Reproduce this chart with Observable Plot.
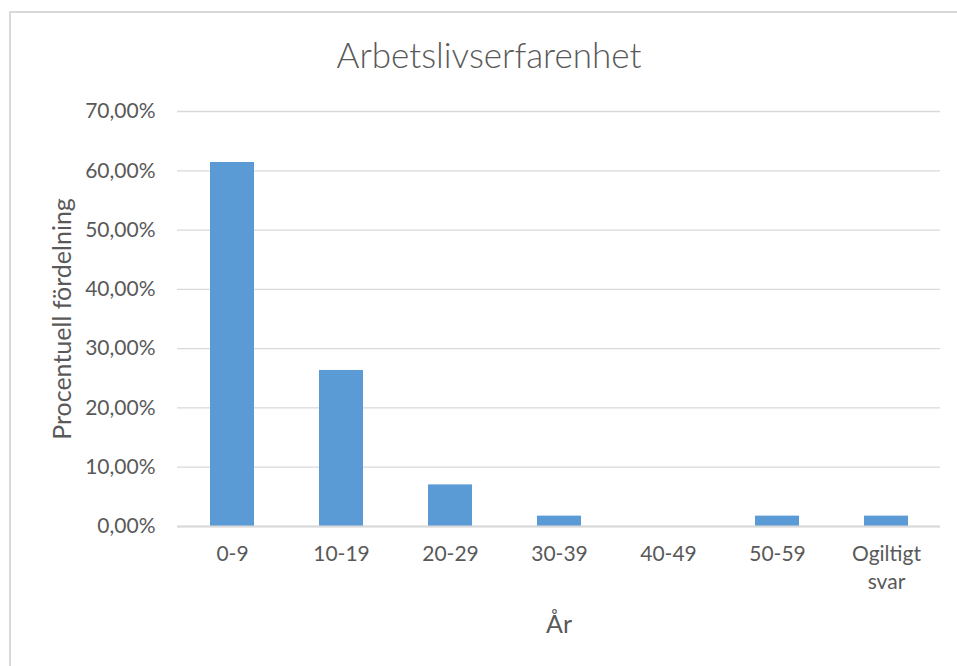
<!DOCTYPE html>
<html>
<head>
<meta charset="utf-8">
<script src="https://cdn.jsdelivr.net/npm/d3@7"></script>
<script src="https://cdn.jsdelivr.net/npm/@observablehq/plot@0.6"></script>
<style>
  html, body { margin: 0; padding: 0; background: #fff; }
  #wrap { position: relative; width: 957px; height: 666px; overflow: hidden; font-family: Lato, "Noto Sans", sans-serif; }
  #border { position: absolute; left: 9px; top: 11px; width: 980px; height: 700px; border: 2px solid #d9d9d9; box-sizing: border-box; }
  #title { position: absolute; left: 0; top: 33px; width: 978px; text-align: center; font-size: 35px; color: #595959; font-weight: 300; }
  #chart { position: absolute; left: 0; top: 0; }
</style>
</head>
<body>
<div id="wrap">
  <div id="border"></div>
  <div id="title">Arbetslivserfarenhet</div>
  <div id="chart"></div>
</div>
<script>
const categories = ["0-9", "10-19", "20-29", "30-39", "40-49", "50-59", "Ogiltigt svar"];
const values = [0.6140, 0.2632, 0.0702, 0.0175, 0, 0.0175, 0.0175];
const yTicks = [0, 0.1, 0.2, 0.3, 0.4, 0.5, 0.6, 0.7];
const yLabel = "Procentuell fördelning";
const xLabel = "År";

const data = categories.map((c, i) => ({cat: c, val: values[i]}));
const fmt = d => (d * 100).toFixed(2).replace(".", ",") + "%";

const plot = Plot.plot({
  width: 957,
  height: 666,
  marginLeft: 177,
  marginRight: 17,
  marginTop: 111,
  marginBottom: 140,
  style: {fontFamily: "Lato, 'Noto Sans', sans-serif", fontSize: "21px", color: "#595959", background: "transparent"},
  x: {domain: categories, paddingInner: 0.6, paddingOuter: 0.3, label: null},
  y: {domain: [0, 0.7], label: null},
  marks: [
    Plot.gridY(yTicks, {stroke: "#d9d9d9", strokeOpacity: 1, strokeWidth: 1.3}),
    Plot.barY(data, {x: "cat", y: "val", fill: "#5b9bd5"}),
    Plot.ruleY([0], {stroke: "#d9d9d9", strokeWidth: 2}),
    Plot.axisY(yTicks, {tickFormat: fmt, tickSize: 0, tickPadding: 22, fill: "#595959", fontSize: 21, label: null}),
    Plot.axisX({tickFormat: d => d.replace(" ", "\n"), tickSize: 0, tickPadding: 14, fill: "#595959", fontSize: 21, lineHeight: 1.35, label: null}),
    Plot.text([yLabel], {frameAnchor: "left", textAnchor: "middle", dx: -115, rotate: -90, fill: "#595959", fontSize: 25}),
    Plot.text([xLabel], {frameAnchor: "bottom", dy: 106, fill: "#595959", fontSize: 25})
  ]
});
document.getElementById("chart").appendChild(plot);
</script>
</body>
</html>
